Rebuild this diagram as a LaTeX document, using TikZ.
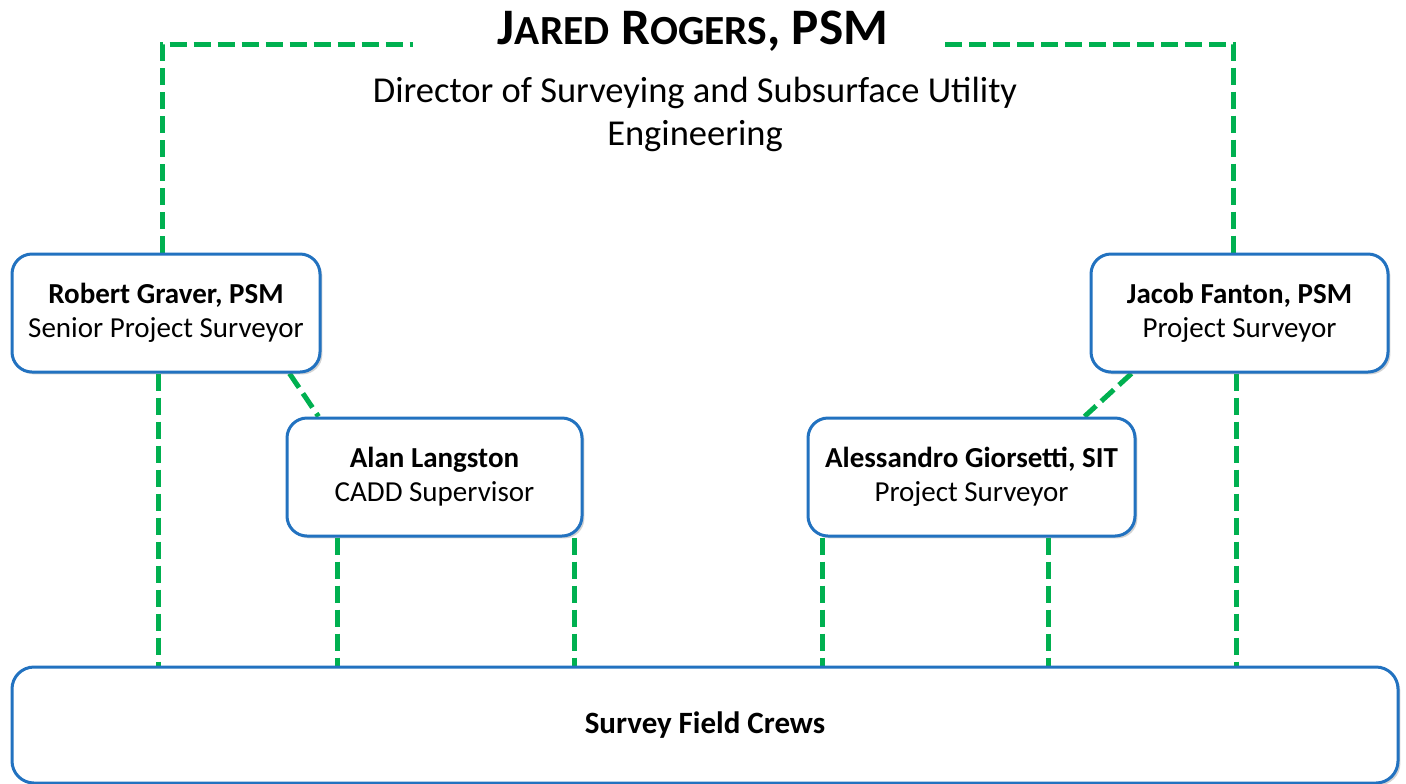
\documentclass[tikz,border=0pt]{standalone}
\usepackage{fontspec}
\setmainfont{Carlito}
\usetikzlibrary{shadows,backgrounds}
\definecolor{boxblue}{RGB}{34,114,192}
\definecolor{lgreen}{RGB}{0,176,80}
\tikzset{
  person/.style={draw=boxblue, line width=1.5pt, fill=white, rounded corners=10pt,
    minimum height=59pt, inner sep=0pt, align=center,
    font=\fontsize{14.5}{17}\selectfont,
    drop shadow={opacity=0.35, shadow xshift=1.2pt, shadow yshift=-1.2pt}},
  conn/.style={draw=lgreen, line width=2.5pt, dash pattern=on 8.5pt off 3.5pt},
}
\begin{document}
\begin{tikzpicture}[x=0.5pt,y=-0.5pt]
\path[use as bounding box] (0,0) rectangle (1406,783);
% title
\node (title) at (693,31) {\bfseries\fontsize{25.6}{30}\selectfont J{\fontsize{20.7}{30}\selectfont ARED} R{\fontsize{20.7}{30}\selectfont OGERS}, PSM};
\node[align=center, font=\fontsize{18.25}{21.5}\selectfont] (dir) at (695,114) {Director of Surveying and Subsurface Utility\\Engineering};
\coordinate (tl) at (413,44);
\coordinate (tr) at (945,44);
% boxes
\node[person, minimum width=154pt] (rob) at (166,313) {\textbf{Robert Graver, PSM}\\Senior Project Surveyor};
\node[person, minimum width=147.5pt] (alan) at (434.5,477) {\textbf{Alan Langston}\\CADD Supervisor};
\node[person, minimum width=163.5pt] (ales) at (971.5,477) {\textbf{Alessandro Giorsetti, SIT}\\Project Surveyor};
\node[person, minimum width=148.5pt] (jac) at (1239.5,313) {\textbf{Jacob Fanton, PSM}\\Project Surveyor};
\node[person, minimum width=693pt, minimum height=58pt, rounded corners=11pt, font=\fontsize{15.5}{18}\selectfont] (crew) at (705,725) {\textbf{Survey Field Crews}};
% connectors
\begin{scope}[on background layer]
\draw[conn] ([xshift=-2pt]rob.north) |- (tl);
\draw[conn] (tr) -| ([xshift=-3pt]jac.north);
\draw[conn] ([xshift=-4pt]rob.south) -- ([xshift=-4pt]rob.south |- crew.north);
\draw[conn] ([xshift=-16pt]rob.south east) -- ([xshift=16.5pt]alan.north west);
\draw[conn] ([xshift=-48.75pt]alan.south) -- ([xshift=-48.75pt]alan.south |- crew.north);
\draw[conn] ([xshift=69.75pt]alan.south) -- ([xshift=69.75pt]alan.south |- crew.north);
\draw[conn] ([xshift=-74.75pt]ales.south) -- ([xshift=-74.75pt]ales.south |- crew.north);
\draw[conn] ([xshift=38.25pt]ales.south) -- ([xshift=38.25pt]ales.south |- crew.north);
\draw[conn] ([xshift=21pt]jac.south west) -- ([xshift=-26pt]ales.north east);
\draw[conn] ([xshift=-1.75pt]jac.south) -- ([xshift=-1.75pt]jac.south |- crew.north);
\end{scope}
\end{tikzpicture}
\end{document}
